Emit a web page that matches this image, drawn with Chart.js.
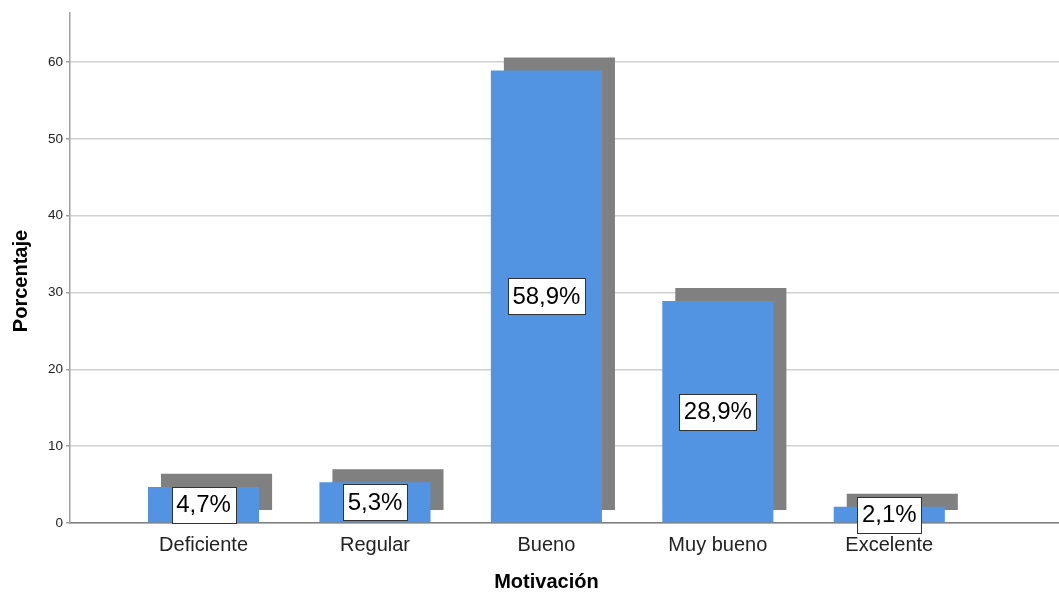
<!DOCTYPE html>
<html>
<head>
<meta charset="utf-8">
<script src="https://cdn.jsdelivr.net/npm/chart.js@4.4.1/dist/chart.umd.min.js"></script>
<style>
  html, body { margin: 0; padding: 0; background: #fff; }
  #wrap { width: 1059px; height: 596px; position: relative; }
</style>
</head>
<body>
<div id="wrap"><canvas id="chart"></canvas></div>
<script>
const categories = ['Deficiente', 'Regular', 'Bueno', 'Muy bueno', 'Excelente'];
const percentages = [4.7, 5.3, 58.9, 28.9, 2.1];
const yTicks = [0, 10, 20, 30, 40, 50, 60];
const shadowLift = 1.7; // how far the gray back face sits above the baseline

const FONT = '"Liberation Sans", Arial, sans-serif';
const BLUE = '#5294e2';
const SHADOW = '#808080';

// back face: same heights, raised a bit and pushed right at draw time
const shadowData = percentages.map((v, i) => ({ x: i, y: [shadowLift, v + shadowLift] }));
const barData = percentages.map((v, i) => ({ x: i, y: v }));

const fmt = v => v.toFixed(1).replace('.', ',') + '%';

const shadowShift = {
  id: 'shadowShift',
  beforeDatasetDraw(chart, args) {
    if (args.index === 1) {
      chart.ctx.save();
      chart.ctx.translate(13, 0);
    }
  },
  afterDatasetDraw(chart, args) {
    if (args.index === 1) chart.ctx.restore();
  }
};

const valueBoxes = {
  id: 'valueBoxes',
  afterDatasetsDraw(chart) {
    const ctx = chart.ctx;
    const meta = chart.getDatasetMeta(0);
    ctx.save();
    ctx.font = '24px ' + FONT;
    ctx.textAlign = 'center';
    ctx.textBaseline = 'middle';
    meta.data.forEach((bar, i) => {
      const text = fmt(percentages[i]);
      const cx = bar.x;
      const cy = (bar.y + bar.base) / 2;
      const w = Math.round(ctx.measureText(text).width + 9);
      const h = 36;
      const left = Math.round(cx - w / 2) + 0.5;
      const top = Math.round(cy - h / 2) + 0.5;
      ctx.fillStyle = '#fff';
      ctx.fillRect(left, top, w, h);
      ctx.strokeStyle = '#333';
      ctx.lineWidth = 1;
      ctx.strokeRect(left, top, w, h);
      ctx.fillStyle = '#000';
      ctx.fillText(text, cx, cy + 1);
    });
    ctx.restore();
  }
};

const axisTitles = {
  id: 'axisTitles',
  afterDraw(chart) {
    const ctx = chart.ctx;
    const x = chart.scales.x;
    ctx.save();
    ctx.fillStyle = '#000';
    ctx.font = 'bold 20px ' + FONT;
    ctx.textAlign = 'center';
    ctx.textBaseline = 'alphabetic';
    ctx.fillText('Motivación', x.getPixelForValue(2), 588);
    ctx.translate(27, 281);
    ctx.rotate(-Math.PI / 2);
    ctx.fillText('Porcentaje', 0, 0);
    ctx.restore();
  }
};

new Chart(document.getElementById('chart'), {
  type: 'bar',
  data: {
    datasets: [
      { data: barData, backgroundColor: BLUE, grouped: false, barPercentage: 0.648, categoryPercentage: 1 },
      { data: shadowData, backgroundColor: SHADOW, grouped: false, barPercentage: 0.648, categoryPercentage: 1 }
    ]
  },
  options: {
    responsive: true,
    maintainAspectRatio: false,
    animation: false,
    events: [],
    layout: { padding: { top: 13, right: 0, left: 0, bottom: 0 } },
    plugins: { legend: { display: false }, tooltip: { enabled: false } },
    scales: {
      x: {
        type: 'linear',
        offset: false,
        min: -0.779,
        max: 4.99,
        afterBuildTicks: s => { s.ticks = categories.map((c, i) => ({ value: i })); },
        afterFit: s => { s.height = 73; },
        grid: { display: false, drawTicks: false },
        border: { color: '#7f7f7f', width: 1.5 },
        ticks: {
          autoSkip: false,
          maxRotation: 0,
          padding: 10,
          color: '#222',
          font: { family: FONT, size: 20 },
          callback: v => categories[v]
        }
      },
      y: {
        min: 0,
        max: 66.4,
        afterBuildTicks: s => { s.ticks = yTicks.map(v => ({ value: v })); },
        afterFit: s => { s.width = 70; },
        grid: { color: '#d0d0d0', lineWidth: 1.5, tickLength: 4, tickColor: '#a0a0a0' },
        border: { color: '#a0a0a0', width: 1.5 },
        ticks: {
          padding: 3,
          color: '#222',
          font: { family: FONT, size: 13.5 }
        }
      }
    }
  },
  plugins: [shadowShift, valueBoxes, axisTitles]
});
</script>
</body>
</html>
